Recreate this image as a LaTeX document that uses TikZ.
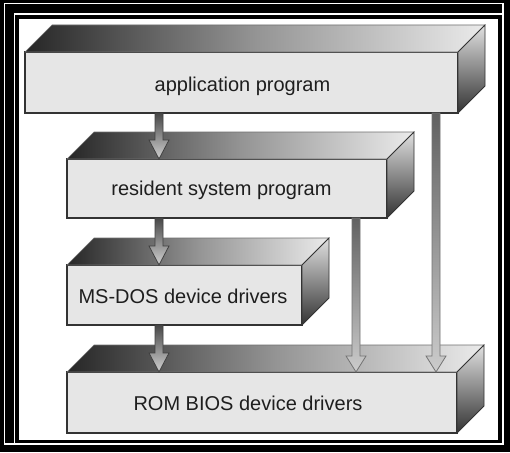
\documentclass[tikz,border=0pt]{standalone}
\usepackage{fontspec}
\setmainfont{Liberation Sans}
\usetikzlibrary{calc}
\definecolor{facefill}{HTML}{E6E6E6}
\definecolor{edge}{HTML}{333333}
\definecolor{txt}{HTML}{1E1E1E}
\tikzset{
  face/.style={draw=edge, line width=1.3pt, fill=facefill, rectangle, outer sep=0pt, inner sep=0pt},
  lbl/.style={text=txt, font=\fontsize{20}{24}\selectfont, inner sep=0pt, anchor=base},
  topface/.style={draw=edge!70, line width=0.6pt, left color=black!85, right color=black!8, middle color=black!42},
  sideface/.style={draw=edge, line width=0.8pt, top color=black!12, bottom color=black!80},
  shortarrow/.style={draw=black!75, line width=0.8pt, top color=black!72, bottom color=black!18},
  longarrow/.style={draw=black!55, line width=0.8pt, top color=black!62, bottom color=black!20}
}
\newcommand{\boxdepth}[1]{%
  \path[topface] (#1.north west) -- ++(27,-27) -- ($(#1.north east)+(27,-27)$) -- (#1.north east) -- cycle;
  \path[sideface] (#1.north east) -- ++(27,-27) -- ($(#1.south east)+(27,-27)$) -- (#1.south east) -- cycle;}
\newcommand{\fatarrow}[4]{%
  \path[#3] let \p1=#1, \p2=#2 in
    (\x1-4pt,\y1) -- (\x1-4pt,\y2+#4pt) -- (\x1-10pt,\y2+#4pt) -- (\x2,\y2)
    -- (\x1+10pt,\y2+#4pt) -- (\x1+4pt,\y2+#4pt) -- (\x1+4pt,\y1) -- cycle;}
\begin{document}
\begin{tikzpicture}[x=1pt,y=-1pt]
  % frame
  \fill[black] (0,0) rectangle (510,452);
  \fill[white] (19,19) rectangle (498,440);
  \draw[white, line width=1.5pt] (4.25,3.75) rectangle (503,444);
  \draw[white, line width=1.5pt] (14.25,14.25) rectangle (503,444);
  % front faces
  \node[face, minimum width=433pt, minimum height=61pt] (app) at (241.5,82.5) {};
  \node[face, minimum width=320pt, minimum height=59pt] (res) at (227,188.5) {};
  \node[face, minimum width=235pt, minimum height=60pt] (dos) at (184.5,295) {};
  \node[face, minimum width=390pt, minimum height=61pt] (rom) at (262,402.5) {};
  \boxdepth{app}
  \boxdepth{res}
  \boxdepth{dos}
  \boxdepth{rom}
  % labels
  \node[lbl] (appT) at (242.5,91) {application program};
  \node[lbl] (resT) at (221.5,195.5) {resident system program};
  \node[lbl] (dosT) at (183,303) {MS-DOS device drivers};
  \node[lbl] (romT) at (248,410) {ROM BIOS device drivers};
  % columns
  \coordinate (c1) at (159,0);
  \coordinate (c2) at (356,0);
  \coordinate (c3) at (436,0);
  % arrows
  \fatarrow{(app.south -| c1)}{(res.north -| c1)}{shortarrow}{19}
  \fatarrow{(res.south -| c1)}{(dos.north -| c1)}{shortarrow}{19}
  \fatarrow{(dos.south -| c1)}{(rom.north -| c1)}{shortarrow}{19}
  \fatarrow{(res.south -| c2)}{(rom.north -| c2)}{longarrow}{16}
  \fatarrow{(app.south -| c3)}{(rom.north -| c3)}{longarrow}{16}
\end{tikzpicture}
\end{document}
